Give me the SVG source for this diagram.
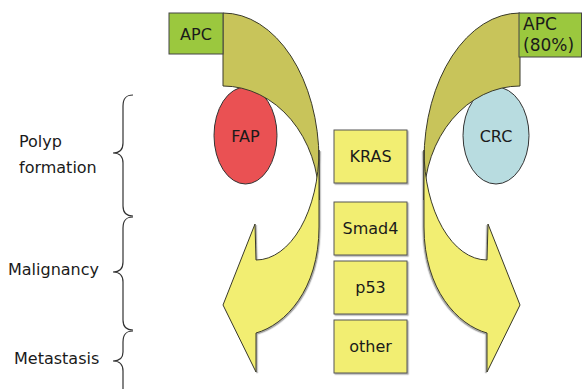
<svg xmlns="http://www.w3.org/2000/svg" width="582" height="389" viewBox="0 0 582 389">
  <defs>
    <filter id="sh" x="-10%" y="-10%" width="120%" height="120%">
      <feDropShadow dx="1.2" dy="1.2" stdDeviation="0.6" flood-color="#000" flood-opacity="0.35"/>
    </filter>
    <g id="curve">
      <path class="olive" d="M223,13 A96,147 0 0 1 319,160 L319,200 A96,114 0 0 0 223,86 Z"/>
      <path class="yellow" filter="url(#sh)" d="M319,150 L319,227 C319,290 285,325 256,333 L256,372 L223,305 L255,224 L256,260 A63,110 0 0 0 319,150 Z"/>
    </g>
  </defs>
  <style>
    text { font-family: "DejaVu Sans", Verdana, sans-serif; font-size: 16px; fill: #1a1a1a; }
    .c { text-anchor: middle; }
    .big { font-size: 17px; }
    .olive { fill: #C8C45A; stroke: #3a3a2a; stroke-width: 1; }
    .yellow { fill: #F2EE72; stroke: #3a3a2a; stroke-width: 1; }
    .gene { fill: #F2EE72; stroke: #555; stroke-width: 1; }
    .apc { fill: #9BC83E; stroke: #444; stroke-width: 1; }
    .brace { fill: none; stroke: #333; stroke-width: 1.2; }
  </style>
  <rect width="582" height="389" fill="#fff"/>

  <g id="fap">
    <ellipse cx="245.5" cy="135.5" rx="31.5" ry="48.5" fill="#EA5153" stroke="#333" stroke-width="1"/>
    <text class="c" x="245.5" y="142">FAP</text>
  </g>
  <g id="crc">
    <ellipse cx="496" cy="135.5" rx="33" ry="48.5" fill="#B8DCE0" stroke="#333" stroke-width="1"/>
    <text class="c" x="496" y="142">CRC</text>
  </g>

  <g id="connectors">
    <use href="#curve"/>
    <use href="#curve" transform="translate(743,0) scale(-1,1)"/>
  </g>

  <g id="apc-left">
    <rect class="apc" x="169" y="13" width="54" height="41"/>
    <text class="c" x="196" y="40">APC</text>
  </g>
  <g id="apc-right">
    <rect class="apc" x="519" y="13" width="62.5" height="44"/>
    <text class="big" x="523" y="30">APC</text>
    <text class="big" x="523" y="51">(80%)</text>
  </g>

  <g id="kras">
    <rect class="gene" filter="url(#sh)" x="334" y="130" width="73" height="53"/>
    <text class="c" x="370.5" y="162">KRAS</text>
  </g>
  <g id="smad4">
    <rect class="gene" filter="url(#sh)" x="334" y="202" width="73" height="53"/>
    <text class="c" x="370.5" y="234">Smad4</text>
  </g>
  <g id="p53">
    <rect class="gene" filter="url(#sh)" x="334" y="261" width="73" height="53"/>
    <text class="c" x="370.5" y="293">p53</text>
  </g>
  <g id="other">
    <rect class="gene" filter="url(#sh)" x="334" y="320" width="73" height="53"/>
    <text class="c" x="370.5" y="352">other</text>
  </g>

  <g id="stages">
    <path class="brace" d="M133,95 C126,95 123,98 123,106 L123,143 C123,150 119,153 113,153 C119,153 123,156 123,163 L123,206 C123,213 126,216 133,216"/>
    <path class="brace" d="M133,217 C126,217 123,220 123,228 L123,262 C123,269 119,272 113,272 C119,272 123,275 123,282 L123,320 C123,327 126,330 133,330"/>
    <path class="brace" d="M133,331 C126,331 123,334 123,342 L123,352 C123,358 119,361 113,361 C119,361 123,364 123,371 L123,395"/>
    <text x="19" y="147">Polyp</text>
    <text x="19" y="173">formation</text>
    <text x="8" y="275">Malignancy</text>
    <text x="14" y="364">Metastasis</text>
  </g>
</svg>
